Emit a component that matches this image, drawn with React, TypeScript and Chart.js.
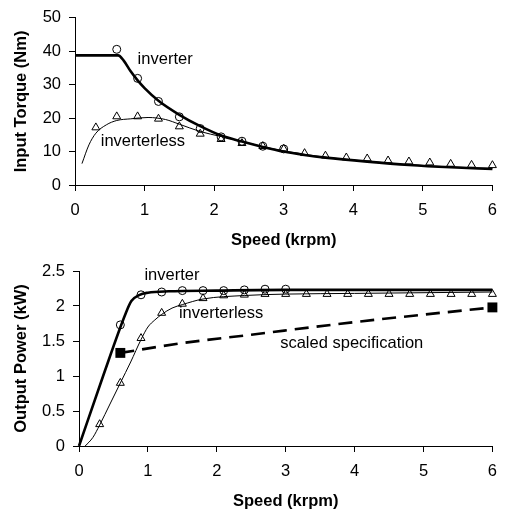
import React, { useEffect, useRef } from 'react';
import { Chart, registerables } from 'chart.js';

Chart.register(...registerables);

// ---------- Top chart: Input torque ----------
const torqueInvLineSpeed = [0, 0.62, 0.7, 0.8, 0.9, 1.0, 1.2, 1.5, 1.8, 2.1, 2.4, 2.7, 3.0, 3.3, 3.6, 4.2, 4.8, 5.4, 6.0];
const torqueInvLine = [38.8, 38.8, 37.2, 34.0, 31.3, 29.0, 25.2, 21.0, 17.6, 14.8, 13.0, 11.4, 10.0, 9.0, 8.2, 7.0, 6.0, 5.3, 4.8];

const torqueLessLineSpeed = [0.1, 0.2, 0.3, 0.45, 0.6, 0.8, 1.05, 1.3, 1.5, 1.8, 2.1, 2.4, 2.7, 3.0, 3.6, 4.2, 4.8, 5.4, 6.0];
const torqueLessLine = [6.4, 12.0, 15.5, 18.0, 19.3, 19.8, 20.2, 19.6, 18.2, 16.0, 14.5, 13.0, 11.5, 10.2, 8.3, 7.1, 6.1, 5.4, 5.0];

const torqueInvMeasSpeed = [0.6, 0.9, 1.2, 1.5, 1.8, 2.1, 2.4, 2.7, 3.0];
const torqueInvMeas = [40.6, 31.9, 25.0, 20.4, 16.9, 14.4, 13.1, 11.6, 10.8];

const torqueLessMeasSpeed = [0.3, 0.6, 0.9, 1.2, 1.5, 1.8, 2.1, 2.4, 2.7, 3.0, 3.3, 3.6, 3.9, 4.2, 4.5, 4.8, 5.1, 5.4, 5.7, 6.0];
const torqueLessMeas = [17.2, 20.5, 20.5, 19.8, 17.5, 15.3, 13.7, 12.5, 11.6, 10.8, 9.5, 8.75, 8.2, 7.9, 7.3, 7.0, 6.7, 6.3, 6.0, 5.9];

// ---------- Bottom chart: Output power ----------
const powerInvLineSpeed = [0, 0.35, 0.68, 0.76, 0.88, 1.0, 1.3, 2.0, 3.0, 6.0];
const powerInvLine = [0, 1.0, 1.9, 2.07, 2.16, 2.19, 2.21, 2.22, 2.23, 2.23];

const powerLessLineSpeed = [0.09, 0.2, 0.3, 0.45, 0.6, 0.75, 0.9, 1.0, 1.1, 1.2, 1.35, 1.5, 1.8, 2.4, 3.0, 4.0, 6.0];
const powerLessLine = [0, 0.12, 0.3, 0.6, 0.9, 1.2, 1.52, 1.7, 1.8, 1.88, 1.97, 2.02, 2.1, 2.15, 2.17, 2.18, 2.2];

const powerInvMeasSpeed = [0.6, 0.9, 1.2, 1.5, 1.8, 2.1, 2.4, 2.7, 3.0];
const powerInvMeas = [1.73, 2.16, 2.2, 2.22, 2.22, 2.22, 2.23, 2.24, 2.24];

const powerLessMeasSpeed = [0.3, 0.6, 0.9, 1.2, 1.5, 1.8, 2.1, 2.4, 2.7, 3.0, 3.3, 3.6, 3.9, 4.2, 4.5, 4.8, 5.1, 5.4, 5.7, 6.0];
const powerLessMeas = [0.31, 0.9, 1.54, 1.9, 2.03, 2.11, 2.15, 2.16, 2.17, 2.17, 2.17, 2.17, 2.17, 2.17, 2.17, 2.17, 2.17, 2.17, 2.17, 2.17];

const specSpeed = [0.6, 1.5, 2.5, 4.0, 6.0];
const specPower = [1.33, 1.47, 1.59, 1.77, 1.98];
const specMarkerRadius = [7, 0, 0, 0, 7];

const FONT = '"Liberation Sans", Arial, Helvetica, sans-serif';
const FS = 16.5;

function xy(xs: number[], ys: number[]) {
  return xs.map((x, i) => ({ x, y: ys[i] }));
}

const labelPlugin = {
  id: 'textLabels',
  afterDatasetsDraw(chart: any, _args: any, opts: any) {
    const { ctx, scales } = chart;
    const xs = scales.x;
    const ys = scales.y;
    ctx.save();
    ctx.font = `${FS}px ${FONT}`;
    ctx.fillStyle = '#000';
    ctx.textAlign = 'left';
    ctx.textBaseline = 'middle';
    for (const it of opts.items || []) {
      ctx.fillText(it.text, xs.getPixelForValue(it.x), ys.getPixelForValue(it.y));
    }
    ctx.restore();
  },
};

function axisCommon() {
  return {
    grid: { display: true, drawOnChartArea: false, drawTicks: true, tickLength: 6, color: '#000', lineWidth: 1 },
    border: { display: true, color: '#000', width: 1 },
  };
}

const plainNum = (v: any) => String(Math.round(Number(v) * 100) / 100);

function makeConfig(p: {
  datasets: any[];
  yMax: number;
  yStep: number;
  yTitle: string;
  yWidth: number;
  xHeight: number;
  pad: any;
  xTitlePadBottom: number;
  labels: any[];
}) {
  return {
    type: 'line',
    data: { datasets: p.datasets },
    plugins: [labelPlugin],
    options: {
      animation: false,
      responsive: false,
      devicePixelRatio: 1,
      events: [],
      layout: { padding: p.pad },
      plugins: {
        legend: { display: false },
        tooltip: { enabled: false },
        textLabels: { items: p.labels },
      },
      scales: {
        x: {
          type: 'linear',
          min: 0,
          max: 6,
          ...axisCommon(),
          ticks: { stepSize: 1, color: '#000', font: { family: FONT, size: FS }, padding: 10, maxRotation: 0, callback: plainNum },
          title: {
            display: true,
            text: 'Speed (krpm)',
            color: '#000',
            font: { family: FONT, size: FS, weight: 'bold' },
            padding: { top: 0, bottom: p.xTitlePadBottom },
          },
          afterFit: (s: any) => {
            s.height = p.xHeight;
          },
        },
        y: {
          type: 'linear',
          min: 0,
          max: p.yMax,
          ...axisCommon(),
          ticks: { stepSize: p.yStep, color: '#000', font: { family: FONT, size: FS }, padding: 8, callback: plainNum },
          title: {
            display: true,
            text: p.yTitle,
            color: '#000',
            font: { family: FONT, size: FS, weight: 'bold' },
            padding: { top: 12, bottom: 0 },
          },
          afterFit: (s: any) => {
            s.width = p.yWidth;
          },
        },
      },
    },
  } as any;
}

function lineDs(data: any[], width: number) {
  return {
    data,
    borderColor: '#000',
    borderWidth: width,
    pointRadius: 0,
    fill: false,
    clip: false,
    cubicInterpolationMode: 'monotone',
  };
}

function markerDs(data: any[], style: string, radius: number) {
  return {
    data,
    showLine: false,
    clip: false,
    pointStyle: style,
    pointRadius: radius,
    pointBorderColor: '#000',
    pointBackgroundColor: 'rgba(0,0,0,0)',
    pointBorderWidth: 1,
  };
}

export default function App() {
  const topRef = useRef<HTMLCanvasElement>(null);
  const botRef = useRef<HTMLCanvasElement>(null);

  useEffect(() => {
    const top = new Chart(
      topRef.current as HTMLCanvasElement,
      makeConfig({
        datasets: [
          markerDs(xy(torqueInvMeasSpeed, torqueInvMeas), 'circle', 4),
          markerDs(xy(torqueLessMeasSpeed, torqueLessMeas), 'triangle', 4.6),
          lineDs(xy(torqueInvLineSpeed, torqueInvLine), 2.6),
          lineDs(xy(torqueLessLineSpeed, torqueLessLine), 1),
        ],
        yMax: 50,
        yStep: 10,
        yTitle: 'Input Torque (Nm)',
        yWidth: 75,
        xHeight: 65,
        pad: { top: 12, right: 12, bottom: 0, left: 0 },
        xTitlePadBottom: 0,
        labels: [
          { text: 'inverter', x: 0.9, y: 37.5 },
          { text: 'inverterless', x: 0.37, y: 13 },
        ],
      })
    );

    const specDs = {
      data: xy(specSpeed, specPower),
      borderColor: '#000',
      borderWidth: 2.6,
      borderDash: [14, 8],
      cubicInterpolationMode: 'monotone',
      clip: false,
      pointStyle: 'rect',
      pointRadius: specMarkerRadius,
      pointBorderColor: '#000',
      pointBackgroundColor: '#000',
      pointBorderWidth: 0,
      fill: false,
    };

    const bot = new Chart(
      botRef.current as HTMLCanvasElement,
      makeConfig({
        datasets: [
          markerDs(xy(powerInvMeasSpeed, powerInvMeas), 'circle', 4),
          markerDs(xy(powerLessMeasSpeed, powerLessMeas), 'triangle', 4.6),
          specDs,
          lineDs(xy(powerInvLineSpeed, powerInvLine), 2.6),
          lineDs(xy(powerLessLineSpeed, powerLessLine), 1),
        ],
        yMax: 2.5,
        yStep: 0.5,
        yTitle: 'Output Power (kW)',
        yWidth: 79,
        xHeight: 68,
        pad: { top: 21, right: 11, bottom: 0, left: 0 },
        xTitlePadBottom: 3,
        labels: [
          { text: 'inverter', x: 0.95, y: 2.44 },
          { text: 'inverterless', x: 1.45, y: 1.9 },
          { text: 'scaled specification', x: 2.92, y: 1.47 },
        ],
      })
    );

    return () => {
      top.destroy();
      bot.destroy();
    };
  }, []);

  return (
    <div style={{ position: 'absolute', left: 0, top: 0, width: 507, height: 514, background: '#fff' }}>
      <canvas ref={topRef} width={507} height={250} style={{ position: 'absolute', left: 0, top: 0, display: 'block' }} />
      <canvas ref={botRef} width={507} height={264} style={{ position: 'absolute', left: 0, top: 250, display: 'block' }} />
    </div>
  );
}
